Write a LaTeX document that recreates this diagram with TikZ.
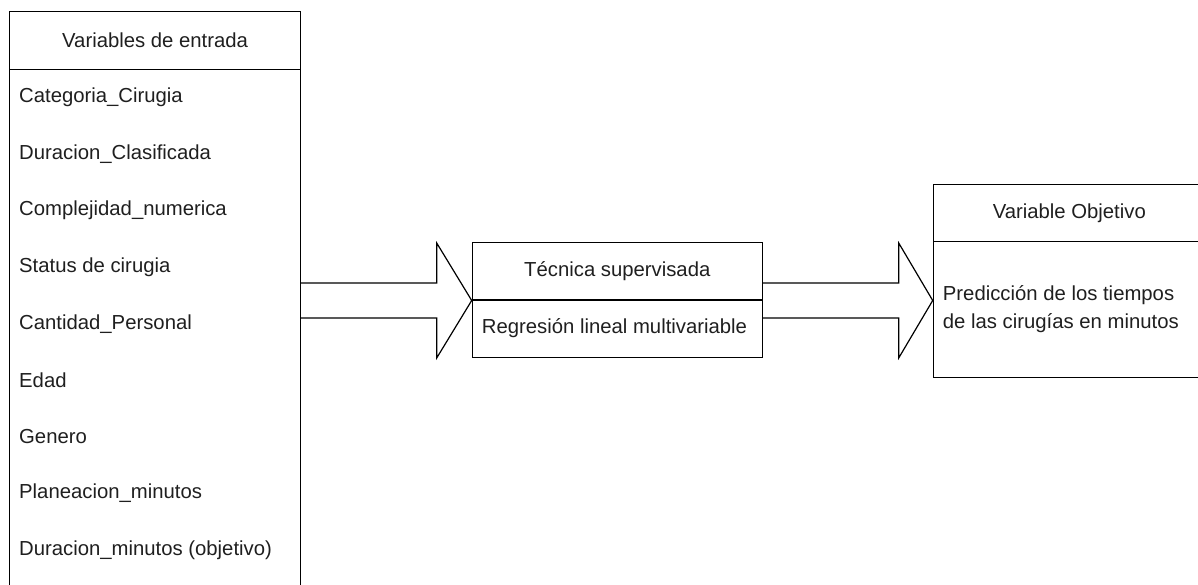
\documentclass[tikz,border=0pt]{standalone}
\usepackage{fontspec}
\setmainfont{Liberation Sans}
\usetikzlibrary{calc}
\begin{document}
\begin{tikzpicture}[x=1pt,y=-1pt,
  box/.style={draw=black, line width=1.2pt, rectangle, inner sep=0pt, anchor=north west},
  lbl/.style={font=\fontsize{20.3}{28}\selectfont, text=black!88, inner sep=0pt},
  item/.style={lbl, anchor=west},
  blockarrow/.style={draw=black, line width=1.2pt, line join=miter}]
\useasboundingbox (0,0) rectangle (1198,585);
\clip (0,0) rectangle (1198,585);
% left table
\node[box, minimum width=291pt, minimum height=58pt] (inhead) at (9,11) {};
\node[lbl] (inheadtxt) at (inhead.center) {Variables de entrada};
\node[box, minimum width=291pt, minimum height=560pt] (inbody) at (9,69) {};
\node[item] (v1) at (19,97) {Categoria\_Cirugia};
\node[item] (v2) at (19,154) {Duracion\_Clasificada};
\node[item] (v3) at (19,210.5) {Complejidad\_numerica};
\node[item] (v4) at (19,267) {Status de cirugia};
\node[item] (v5) at (19,324) {Cantidad\_Personal};
\node[item] (v6) at (19,380) {Edad};
\node[item] (v7) at (19,436.5) {Genero};
\node[item] (v8) at (19,493) {Planeacion\_minutos};
\node[item] (v9) at (19,550) {Duracion\_minutos (objetivo)};
% middle table
\node[box, minimum width=290pt, minimum height=57.6pt] (mhead) at (471.7,241.7) {};
\node[lbl] (mheadtxt) at (mhead.center) {Técnica supervisada};
\node[box, minimum width=290pt, minimum height=57.4pt] (mbody) at (471.7,299.3) {};
\node[item] (mbodytxt) at ($(mbody.west)+(10,0)$) {Regresión lineal multivariable};
% right table
\node[box, minimum width=272pt, minimum height=57pt] (rhead) at (932.7,184) {};
\node[lbl] (rheadtxt) at (rhead.center) {Variable Objetivo};
\node[box, minimum width=272pt, minimum height=136pt] (rbody) at (932.7,241) {};
\node[lbl, anchor=west, align=left, font=\fontsize{20.3}{28}\selectfont] (rbodytxt) at ($(rbody.west)+(10,0)$) {Predicción de los tiempos\\de las cirugías en minutos};
% block arrows
\coordinate (t1) at (mhead.south west);
\coordinate (s1) at (inbody.east |- t1);
\draw[blockarrow] ($(s1)+(0,-17.5)$) -- ($(t1)+(-35,-17.5)$) -- ($(t1)+(-35,-57.5)$) -- (t1)
  -- ($(t1)+(-35,57.5)$) -- ($(t1)+(-35,17.5)$) -- ($(s1)+(0,17.5)$);
\coordinate (t2) at (rbody.west |- t1);
\coordinate (s2) at (mbody.east |- t1);
\draw[blockarrow] ($(s2)+(0,-17.5)$) -- ($(t2)+(-34,-17.5)$) -- ($(t2)+(-34,-57.5)$) -- (t2)
  -- ($(t2)+(-34,57.5)$) -- ($(t2)+(-34,17.5)$) -- ($(s2)+(0,17.5)$);
\end{tikzpicture}
\end{document}
